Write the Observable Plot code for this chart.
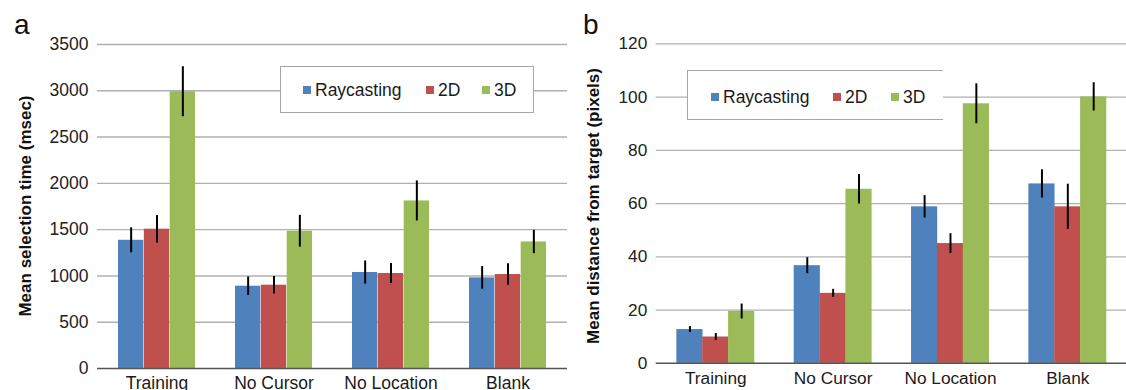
<!DOCTYPE html>
<html>
<head>
<meta charset="utf-8">
<script src="https://cdn.jsdelivr.net/npm/d3@7"></script>
<script src="https://cdn.jsdelivr.net/npm/@observablehq/plot@0.6"></script>
<style>
  html, body { margin: 0; padding: 0; background: #fff; overflow: hidden; }
  #wrap { position: relative; width: 1126px; height: 390px; overflow: hidden; background: #fff;
          font-family: "Liberation Sans", Arial, sans-serif; color: #222; }
  .panel { position: absolute; top: 0; }
  .plabel { position: absolute; font-size: 28px; line-height: 28px; color: #111; }
  .ytitle { position: absolute; font-size: 17px; font-weight: bold; color: #111; white-space: nowrap;
            transform: translate(-50%, -50%) rotate(-90deg); line-height: 17px; }
  .legend { position: absolute; background: #fff; border: 1.5px solid #a6a6a6; box-sizing: border-box; }
  .sw { position: absolute; width: 8px; height: 8px; }
  .lt { position: absolute; font-size: 17.5px; line-height: 18px; color: #1a1a1a; }
</style>
</head>
<body>
<div id="wrap">
  <div class="panel" id="pa" style="left:0"></div>
  <div class="panel" id="pb" style="left:560px"></div>
</div>
<script>
// ---- data ----
const categories = ["Training", "No Cursor", "No Location", "Blank"];
const series = ["Raycasting", "2D", "3D"];
const seriesColors = ["#4F81BD", "#C0504D", "#9BBB59"];

// Panel a: mean selection time (msec)
const timeRaycasting = [1385, 889, 1037, 979];
const time2D         = [1505, 900, 1026, 1015];
const time3D         = [2990, 1483, 1810, 1367];
const timeErrRaycasting = [135, 100, 125, 122];
const timeErr2D         = [148, 94, 108, 117];
const timeErr3D         = [270, 172, 216, 126];
const timeTicks = [0, 500, 1000, 1500, 2000, 2500, 3000, 3500];

// Panel b: mean distance from target (pixels)
const distRaycasting = [12.7, 36.7, 58.8, 67.4];
const dist2D         = [9.9, 26.3, 45.0, 58.8];
const dist3D         = [19.5, 65.4, 97.5, 100.1];
const distErrRaycasting = [1.1, 3.0, 4.2, 5.3];
const distErr2D         = [1.3, 1.5, 3.7, 8.5];
const distErr3D         = [2.8, 5.5, 7.5, 5.3];
const distTicks = [0, 20, 40, 60, 80, 100, 120];

const yTitleA = "Mean selection time (msec)";
const yTitleB = "Mean distance from target (pixels)";

// ---- drawing ----
function panel({values, errors, ticks, width, marginLeft, marginRight}) {
  const rows = [];
  series.forEach((s, i) => categories.forEach((c, j) =>
    rows.push({cat: c, series: s, i, v: values[i][j], e: errors[i][j]})));
  const pInner = 0.34, pOuter = 0.17;
  const W = width - marginLeft - marginRight;
  const step = W / (categories.length - pInner + 2 * pOuter);
  const bw = step * (1 - pInner);
  const w = bw / series.length;
  const marks = [
    Plot.ruleY(ticks.slice(1), {stroke: "#b0b0b0", strokeWidth: 1.4})
  ];
  series.forEach((s, i) => {
    const d = rows.filter(r => r.i === i);
    marks.push(Plot.barY(d, {x: "cat", y: "v", fill: "series",
      insetLeft: i * w, insetRight: (series.length - 1 - i) * w}));
  });
  series.forEach((s, i) => {
    const d = rows.filter(r => r.i === i);
    marks.push(Plot.ruleX(d, {x: "cat", y1: r => r.v - r.e, y2: r => r.v + r.e,
      dx: (i - (series.length - 1) / 2) * w, stroke: "#000", strokeWidth: 2}));
  });
  marks.push(Plot.ruleY([0], {stroke: "#555", strokeWidth: 1.5}));
  marks.push(Plot.axisY({ticks, tickSize: 0, tickPadding: 9, label: null, fill: "#222",
    tickFormat: d => String(d)}));
  marks.push(Plot.axisX({tickSize: 0, tickPadding: 8, label: null, fill: "#1a1a1a"}));
  return Plot.plot({
    width, height: 390,
    marginLeft, marginRight, marginTop: 44, marginBottom: 22,
    x: {type: "band", domain: categories, paddingInner: pInner, paddingOuter: pOuter},
    y: {domain: [0, ticks[ticks.length - 1]]},
    color: {domain: series, range: seriesColors},
    style: {fontFamily: '"Liberation Sans", Arial, sans-serif', fontSize: "17.5px",
            background: "transparent", overflow: "visible"},
    marks
  });
}

document.getElementById("pa").appendChild(panel({
  values: [timeRaycasting, time2D, time3D],
  errors: [timeErrRaycasting, timeErr2D, timeErr3D],
  ticks: timeTicks, width: 570, marginLeft: 97, marginRight: 3
}));
document.getElementById("pb").appendChild(panel({
  values: [distRaycasting, dist2D, dist3D],
  errors: [distErrRaycasting, distErr2D, distErr3D],
  ticks: distTicks, width: 574, marginLeft: 97, marginRight: 0
}));

const wrap = document.getElementById("wrap");
function addDiv(cls, text, style) {
  const d = document.createElement("div");
  d.className = cls; d.textContent = text;
  Object.assign(d.style, style);
  wrap.appendChild(d);
  return d;
}
addDiv("plabel", "a", {left: "14px", top: "11px"});
addDiv("plabel", "b", {left: "583px", top: "11px"});
addDiv("ytitle", yTitleA, {left: "25px", top: "206px"});
addDiv("ytitle", yTitleB, {left: "593px", top: "206px"});

function legend(box, items, noRight) {
  const l = addDiv("legend", "", {left: box.x + "px", top: box.y + "px",
    width: box.w + "px", height: box.h + "px"});
  if (noRight) l.style.borderRight = "none";
  series.forEach((s, i) => {
    addDiv("sw", "", {left: items[i] + "px", top: (box.cy - 4) + "px", background: seriesColors[i]});
    addDiv("lt", s, {left: (items[i] + 12) + "px", top: (box.cy - 9) + "px"});
  });
}
legend({x: 280, y: 66, w: 254, h: 47, cy: 90}, [303, 426, 482], false);
legend({x: 687, y: 70, w: 256, h: 50, cy: 97}, [711, 833, 891], true);
</script>
</body>
</html>
